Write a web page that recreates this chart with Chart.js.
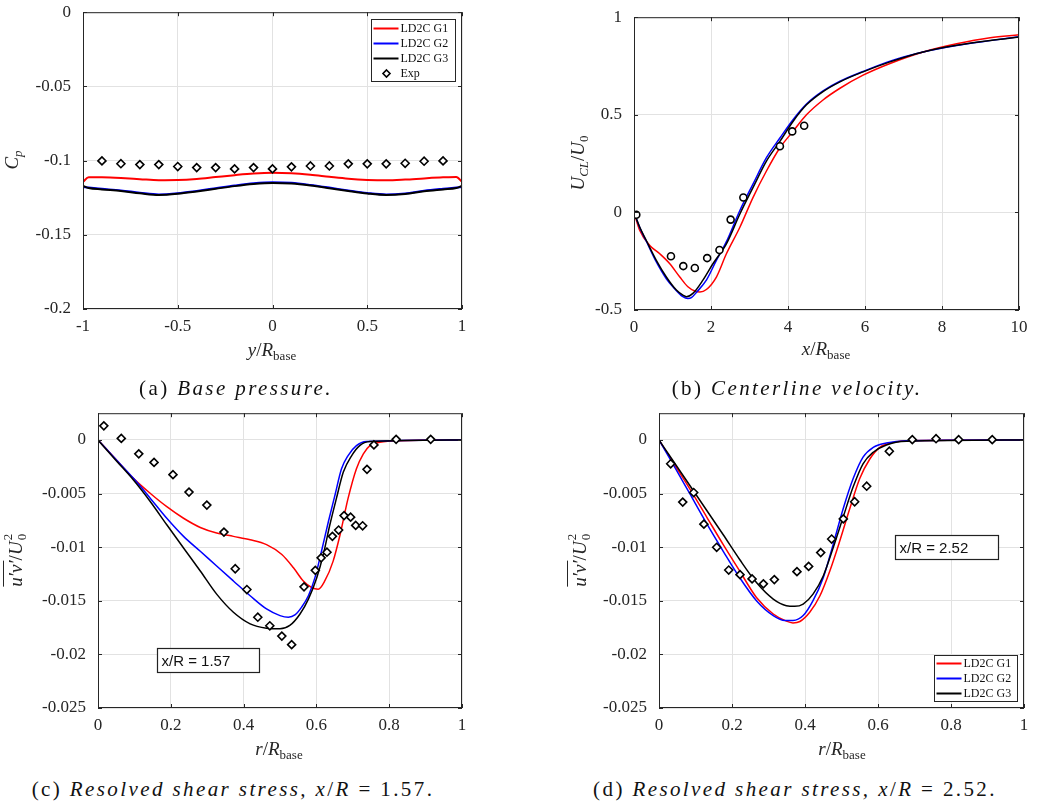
<!DOCTYPE html>
<html>
<head>
<meta charset="utf-8">
<script src="https://cdn.jsdelivr.net/npm/chart.js@4.4.1/dist/chart.umd.min.js"></script>
<style>
  body { margin: 0; width: 1042px; height: 803px; position: relative; overflow: hidden; background: #fff; }
  canvas { position: absolute; }
  .lbl { position: absolute; transform: translate(-50%, -50%); white-space: nowrap;
         font-family: 'Liberation Serif', 'Times New Roman', 'DejaVu Serif', serif; color: #262626; font-size: 19px; }
  .yt { transform: translate(-50%, -50%) rotate(-90deg); }
  .cap { font-size: 21px; color: #111; letter-spacing: 2.4px; }
  .lbl sub { font-size: 13px; vertical-align: -4px; font-style: normal; }
  .ss { display: inline-block; position: relative; width: 8px; height: 10px; }
  .ss .up { position: absolute; left: 1px; top: -12px; font-size: 13px; }
  .ss .dn { position: absolute; left: 1px; top: 2px; font-size: 13px; }
  .ov { border-top: 1px solid #262626; padding-top: 1px; }
</style>
</head>
<body>
<canvas id="chA" width="499" height="364" style="left:-7px;top:-10px"></canvas>
<canvas id="chB" width="505" height="360" style="left:544px;top:-5px"></canvas>
<canvas id="chC" width="484" height="362" style="left:8px;top:391px"></canvas>
<canvas id="chD" width="485" height="362" style="left:569px;top:391px"></canvas>

<div class="lbl yt" style="left:13px;top:160px"><i>C</i><sub><i>p</i></sub></div>
<div class="lbl" style="left:272px;top:351px"><i>y</i>/<i>R</i><sub>base</sub></div>
<div class="lbl yt" style="left:579px;top:163px"><i>U</i><sub><i>CL</i></sub>/<i>U</i><sub>0</sub></div>
<div class="lbl" style="left:826px;top:350px"><i>x</i>/<i>R</i><sub>base</sub></div>
<div class="lbl yt" style="left:16px;top:560px"><i class="ov">u′v′</i>/<i>U</i><span class="ss"><span class="up">2</span><span class="dn">0</span></span></div>
<div class="lbl" style="left:279px;top:750px"><i>r</i>/<i>R</i><sub>base</sub></div>
<div class="lbl yt" style="left:580px;top:560px"><i class="ov">u′v′</i>/<i>U</i><span class="ss"><span class="up">2</span><span class="dn">0</span></span></div>
<div class="lbl" style="left:842px;top:750px"><i>r</i>/<i>R</i><sub>base</sub></div>

<div class="lbl cap" style="left:236px;top:388px">(a) <i>Base pressure.</i></div>
<div class="lbl cap" style="left:797px;top:388px">(b) <i>Centerline velocity.</i></div>
<div class="lbl cap" style="left:233px;top:789px">(c) <i>Resolved shear stress, x</i>/<i>R</i> = 1.57.</div>
<div class="lbl cap" style="left:795px;top:789px">(d) <i>Resolved shear stress, x</i>/<i>R</i> = 2.52.</div>

<script>
// ---- (a) base pressure ----
const aExpX = [-0.9, -0.8, -0.7, -0.6, -0.5, -0.4, -0.3, -0.2, -0.1, 0, 0.1, 0.2, 0.3, 0.4, 0.5, 0.6, 0.7, 0.8, 0.9];
const aExp = [-0.1002, -0.1021, -0.1027, -0.1027, -0.1040, -0.1047, -0.1047, -0.1056, -0.1047, -0.1056, -0.1042, -0.1036, -0.1036, -0.1022, -0.1022, -0.1022, -0.1018, -0.1004, -0.1002];
const aLineX = [-1, -0.97, -0.9, -0.8, -0.7, -0.6, -0.5, -0.4, -0.3, -0.2, -0.1, 0, 0.1, 0.2, 0.3, 0.4, 0.5, 0.6, 0.7, 0.8, 0.9, 0.97, 1];
const aG1 = [-0.1143, -0.1112, -0.1113, -0.1118, -0.1125, -0.1132, -0.1131, -0.1124, -0.1111, -0.1098, -0.1087, -0.1082, -0.1085, -0.1095, -0.1109, -0.1122, -0.1130, -0.1133, -0.1128, -0.1120, -0.1113, -0.1110, -0.1143];
const aG2 = [-0.1178, -0.1182, -0.1190, -0.1201, -0.1216, -0.1228, -0.1220, -0.1204, -0.1186, -0.1168, -0.1153, -0.1146, -0.1150, -0.1164, -0.1182, -0.1201, -0.1218, -0.1228, -0.1221, -0.1203, -0.1190, -0.1182, -0.1178];
const aG3 = [-0.1170, -0.1185, -0.1194, -0.1205, -0.1220, -0.1232, -0.1224, -0.1208, -0.1190, -0.1172, -0.1158, -0.1151, -0.1155, -0.1168, -0.1186, -0.1205, -0.1222, -0.1232, -0.1225, -0.1207, -0.1194, -0.1185, -0.1170];

// ---- (b) centerline velocity ----
const bExpX = [0.06, 0.96, 1.28, 1.58, 1.90, 2.22, 2.51, 2.84, 3.79, 4.11, 4.42];
const bExp = [-0.012, -0.225, -0.275, -0.285, -0.234, -0.193, -0.037, 0.076, 0.339, 0.415, 0.444];
const bG1X = [0, 0.15, 0.41, 0.67, 0.93, 1.19, 1.40, 1.58, 1.71, 1.88, 2.14, 2.40, 2.75, 3.09, 3.44, 3.79, 4.13, 4.48, 4.91, 5.35, 5.95, 6.65, 7.51, 8.38, 9.25, 10];
const bG1 = [0, -0.093, -0.169, -0.212, -0.263, -0.331, -0.381, -0.403, -0.408, -0.395, -0.331, -0.212, -0.076, 0.076, 0.212, 0.331, 0.415, 0.5, 0.576, 0.636, 0.703, 0.763, 0.822, 0.864, 0.895, 0.910];
const bG2X = [0, 0.15, 0.32, 0.58, 0.84, 1.01, 1.27, 1.40, 1.49, 1.62, 1.88, 2.14, 2.40, 2.75, 3.09, 3.44, 3.79, 4.13, 4.48, 4.91, 5.35, 5.95, 6.65, 7.51, 8.38, 9.25, 10];
const bG2 = [0, -0.078, -0.148, -0.254, -0.34, -0.381, -0.432, -0.441, -0.437, -0.41, -0.347, -0.246, -0.15, 0.01, 0.145, 0.28, 0.381, 0.475, 0.555, 0.622, 0.672, 0.722, 0.775, 0.822, 0.855, 0.880, 0.900];
const bG3X = [0, 0.15, 0.32, 0.58, 0.84, 1.10, 1.27, 1.36, 1.53, 1.79, 2.05, 2.40, 2.75, 3.09, 3.44, 3.79, 4.13, 4.48, 4.91, 5.35, 5.95, 6.65, 7.51, 8.38, 9.25, 10];
const bG3 = [0, -0.076, -0.144, -0.246, -0.331, -0.398, -0.424, -0.432, -0.415, -0.347, -0.263, -0.161, -0.008, 0.127, 0.263, 0.364, 0.466, 0.551, 0.619, 0.669, 0.720, 0.771, 0.822, 0.856, 0.881, 0.898];

// ---- (c) shear stress x/R = 1.57 ----
const cExpX = [0.016, 0.064, 0.112, 0.154, 0.206, 0.250, 0.299, 0.346, 0.377, 0.409, 0.439, 0.472, 0.505, 0.532, 0.566, 0.597, 0.613, 0.629, 0.644, 0.661, 0.676, 0.694, 0.708, 0.727, 0.739, 0.758, 0.819, 0.914];
const cExp = [0.00132, 0.00015, -0.00129, -0.00209, -0.00323, -0.00486, -0.00607, -0.00859, -0.01201, -0.01395, -0.01653, -0.01733, -0.01829, -0.01909, -0.0137, -0.01216, -0.01099, -0.01047, -0.00899, -0.0084, -0.00705, -0.0072, -0.00797, -0.008, -0.00274, -0.00046, 0.00006, 0.00006];
const cG1X = [0, 0.052, 0.098, 0.144, 0.189, 0.235, 0.281, 0.326, 0.372, 0.418, 0.463, 0.505, 0.537, 0.564, 0.587, 0.605, 0.623, 0.646, 0.665, 0.687, 0.710, 0.729, 0.747, 0.774, 0.829, 1];
const cG1 = [0, -0.00191, -0.0036, -0.00499, -0.00622, -0.0073, -0.00816, -0.00868, -0.00899, -0.0093, -0.00976, -0.01068, -0.01192, -0.01315, -0.01376, -0.01392, -0.01315, -0.0113, -0.00884, -0.00545, -0.00268, -0.00129, -0.00052, -0.00022, -0.00006, 0];
const cG2X = [0, 0.052, 0.098, 0.144, 0.189, 0.235, 0.281, 0.326, 0.372, 0.418, 0.463, 0.5, 0.523, 0.541, 0.559, 0.578, 0.596, 0.614, 0.633, 0.651, 0.669, 0.687, 0.710, 0.738, 1];
const cG2 = [0, -0.00191, -0.0036, -0.00545, -0.0073, -0.00899, -0.01038, -0.01176, -0.01315, -0.01453, -0.01576, -0.01638, -0.01653, -0.01632, -0.01561, -0.01453, -0.01284, -0.01038, -0.0076, -0.00514, -0.00268, -0.00145, -0.00052, -0.00015, 0];
const cG3X = [0, 0.052, 0.098, 0.144, 0.189, 0.235, 0.281, 0.326, 0.372, 0.418, 0.463, 0.5, 0.527, 0.555, 0.578, 0.601, 0.619, 0.637, 0.655, 0.674, 0.697, 0.719, 0.747, 1];
const cG3 = [0, -0.002, -0.00376, -0.00576, -0.00791, -0.01007, -0.01222, -0.01438, -0.01607, -0.01715, -0.01755, -0.01761, -0.0173, -0.01623, -0.01484, -0.01284, -0.01068, -0.00791, -0.00545, -0.00299, -0.00145, -0.00052, -0.00015, 0];

// ---- (d) shear stress x/R = 2.52 ----
const dExpX = [0.032, 0.065, 0.095, 0.123, 0.158, 0.191, 0.222, 0.255, 0.286, 0.316, 0.378, 0.410, 0.443, 0.473, 0.505, 0.536, 0.569, 0.631, 0.694, 0.759, 0.821, 0.913];
const dExp = [-0.00222, -0.00579, -0.0049, -0.00785, -0.01001, -0.01213, -0.01256, -0.01296, -0.01342, -0.01302, -0.01228, -0.01179, -0.0105, -0.00924, -0.00736, -0.00576, -0.00431, -0.00105, 0.00003, 0.00012, 0.00003, 0.00003];
const dG1X = [0, 0.038, 0.084, 0.130, 0.176, 0.221, 0.267, 0.313, 0.349, 0.367, 0.386, 0.413, 0.441, 0.468, 0.495, 0.523, 0.550, 0.578, 0.605, 0.642, 0.678, 1];
const dG1 = [0, -0.00206, -0.00453, -0.00714, -0.00976, -0.01222, -0.01469, -0.01623, -0.0169, -0.01706, -0.01693, -0.01607, -0.01453, -0.01222, -0.00945, -0.00637, -0.0036, -0.00175, -0.00068, -0.00022, -0.00006, 0];
const dG2X = [0, 0.038, 0.084, 0.130, 0.176, 0.221, 0.267, 0.313, 0.345, 0.367, 0.395, 0.422, 0.450, 0.477, 0.505, 0.532, 0.559, 0.587, 0.623, 0.678, 1];
const dG2 = [0, -0.00222, -0.00499, -0.00776, -0.01038, -0.01284, -0.01499, -0.01638, -0.01684, -0.01684, -0.01638, -0.01499, -0.01284, -0.00976, -0.00637, -0.0036, -0.0016, -0.00068, -0.00028, -0.00006, 0];
const dG3X = [0, 0.038, 0.084, 0.130, 0.176, 0.221, 0.267, 0.313, 0.349, 0.372, 0.395, 0.422, 0.450, 0.477, 0.505, 0.532, 0.559, 0.587, 0.623, 0.678, 1];
const dG3 = [0, -0.00191, -0.00422, -0.00653, -0.00884, -0.01115, -0.0133, -0.01484, -0.01546, -0.01552, -0.0153, -0.01438, -0.01268, -0.01007, -0.00714, -0.00437, -0.00222, -0.00114, -0.00046, -0.00012, 0];

const RED = '#ff0000', BLUE = '#0000ff', BLACK = '#000000';
const TICK_COLOR = '#262626', GRID = '#e2e2e2';
const SERIF = '"Liberation Serif", "Times New Roman", "DejaVu Serif", serif';

function pts(xs, ys) { return xs.map((x, i) => ({ x: x, y: ys[i] })); }

function line(label, xs, ys, color, w, order) {
  return { label: label, data: pts(xs, ys), showLine: true, borderColor: color, backgroundColor: color,
           borderWidth: w, pointRadius: 0, cubicInterpolationMode: 'monotone', order: order };
}
function marks(xs, ys, style) {
  return { label: 'Exp', data: pts(xs, ys), showLine: false, pointStyle: style,
           pointRadius: style === 'circle' ? 3.5 : 4, borderColor: BLACK, pointBorderWidth: 1.6,
           pointBackgroundColor: '#fff', borderWidth: 1.6, order: 0 };
}

// frame, inward ticks, text box and legend, MATLAB style
const extras = {
  id: 'extras',
  afterDatasetsDraw(chart, args, opts) {
    const ctx = chart.ctx, a = chart.chartArea;
    const xs = chart.scales.x, ys = chart.scales.y;
    ctx.save();
    ctx.strokeStyle = '#262626';
    ctx.lineWidth = 1;
    ctx.strokeRect(a.left + 0.5, a.top + 0.5, a.right - a.left - 1, a.bottom - a.top - 1);
    ctx.beginPath();
    xs.ticks.forEach(t => {
      const p = Math.round(xs.getPixelForValue(t.value)) + 0.5;
      ctx.moveTo(p, a.bottom); ctx.lineTo(p, a.bottom - 4);
      ctx.moveTo(p, a.top); ctx.lineTo(p, a.top + 4);
    });
    ys.ticks.forEach(t => {
      const p = Math.round(ys.getPixelForValue(t.value)) + 0.5;
      ctx.moveTo(a.left, p); ctx.lineTo(a.left + 4, p);
      ctx.moveTo(a.right, p); ctx.lineTo(a.right - 4, p);
    });
    ctx.stroke();

    if (opts.note) {
      const n = opts.note;
      const x0 = Math.round(xs.getPixelForValue(n.x0)) + 0.5, x1 = Math.round(xs.getPixelForValue(n.x1)) + 0.5;
      const y0 = Math.round(ys.getPixelForValue(n.y0)) + 0.5, y1 = Math.round(ys.getPixelForValue(n.y1)) + 0.5;
      ctx.fillStyle = '#fff';
      ctx.fillRect(x0, y0, x1 - x0, y1 - y0);
      ctx.lineWidth = 1.2;
      ctx.strokeStyle = '#222';
      ctx.strokeRect(x0, y0, x1 - x0, y1 - y0);
      ctx.fillStyle = '#111';
      ctx.font = '15px "Liberation Sans", Arial, sans-serif';
      ctx.textBaseline = 'middle';
      ctx.textAlign = 'left';
      ctx.fillText(n.text, x0 + 4, (y0 + y1) / 2 + 1);
    }

    if (opts.legend) {
      const L = opts.legend;
      const items = chart.data.datasets.filter(d => L.labels.includes(d.label));
      const h = L.h, w = L.w;
      const bx = Math.round(a.right - L.right - w) + 0.5;
      const by = L.top != null ? Math.round(a.top + L.top) + 0.5 : Math.round(a.bottom - L.bottom - h) + 0.5;
      ctx.fillStyle = '#fff';
      ctx.fillRect(bx, by, w, h);
      ctx.lineWidth = 1;
      ctx.strokeStyle = '#262626';
      ctx.strokeRect(bx, by, w, h);
      ctx.font = '12px ' + SERIF;
      ctx.textBaseline = 'middle';
      ctx.textAlign = 'left';
      L.labels.forEach((lab, i) => {
        const d = items.find(q => q.label === lab);
        const cy = by + L.first + i * L.step;
        if (d.showLine === false) {
          const cx = bx + 15, r = 3.5;
          ctx.beginPath();
          ctx.moveTo(cx, cy - r); ctx.lineTo(cx + r, cy); ctx.lineTo(cx, cy + r); ctx.lineTo(cx - r, cy); ctx.closePath();
          ctx.fillStyle = '#fff'; ctx.fill();
          ctx.lineWidth = 1.6; ctx.strokeStyle = BLACK; ctx.stroke();
        } else {
          ctx.beginPath();
          ctx.moveTo(bx + 2, cy); ctx.lineTo(bx + 27, cy);
          ctx.lineWidth = 2; ctx.strokeStyle = d.borderColor; ctx.stroke();
        }
        ctx.fillStyle = '#111';
        ctx.fillText(lab, bx + 29, cy + 0.5);
      });
    }
    ctx.restore();
  }
};

function fmt(v) { return String(+Number(v).toFixed(4)); }

function makeChart(id, datasets, xr, yr, extraOpts) {
  return new Chart(document.getElementById(id).getContext('2d'), {
    type: 'scatter',
    data: { datasets: datasets },
    options: {
      responsive: false,
      animation: false,
      layout: { padding: { top: 20, right: 30, left: 0, bottom: 0 } },
      plugins: { legend: { display: false }, tooltip: { enabled: false }, extras: extraOpts },
      scales: {
        x: {
          type: 'linear', min: xr[0], max: xr[1],
          ticks: { stepSize: xr[2], includeBounds: false, padding: 7, color: TICK_COLOR, maxRotation: 0,
                   font: { family: SERIF, size: 17 }, callback: fmt },
          grid: { color: GRID, drawTicks: false, tickLength: 0 },
          border: { display: false },
          afterFit: s => { s.height = 45; }
        },
        y: {
          type: 'linear', min: yr[0], max: yr[1],
          ticks: { stepSize: yr[2], includeBounds: false, padding: 12, color: TICK_COLOR,
                   font: { family: SERIF, size: 17 }, callback: fmt },
          grid: { color: GRID, drawTicks: false, tickLength: 0 },
          border: { display: false },
          afterFit: s => { s.width = 90; }
        }
      }
    },
    plugins: [extras]
  });
}

makeChart('chA', [
  marks(aExpX, aExp, 'rectRot'),
  line('LD2C G1', aLineX, aG1, RED, 2, 3),
  line('LD2C G2', aLineX, aG2, BLUE, 2, 2),
  line('LD2C G3', aLineX, aG3, BLACK, 2, 1)
], [-1, 1, 0.5], [-0.2, 0, 0.05],
  { legend: { labels: ['LD2C G1', 'LD2C G2', 'LD2C G3', 'Exp'], right: 7, top: 7, w: 84, h: 62, first: 9, step: 15 } });

makeChart('chB', [
  marks(bExpX, bExp, 'circle'),
  line('LD2C G1', bG1X, bG1, RED, 1.5, 3),
  line('LD2C G2', bG2X, bG2, BLUE, 1.5, 2),
  line('LD2C G3', bG3X, bG3, BLACK, 1.5, 1)
], [0, 10, 2], [-0.5, 1, 0.5], {});

makeChart('chC', [
  marks(cExpX, cExp, 'rectRot'),
  line('LD2C G1', cG1X, cG1, RED, 1.5, 3),
  line('LD2C G2', cG2X, cG2, BLUE, 1.5, 2),
  line('LD2C G3', cG3X, cG3, BLACK, 1.5, 1)
], [0, 1, 0.2], [-0.025, 0.0025, 0.005],
  { note: { text: 'x/R = 1.57', x0: 0.161, x1: 0.442, y0: -0.0194, y1: -0.0216 } });

makeChart('chD', [
  marks(dExpX, dExp, 'rectRot'),
  line('LD2C G1', dG1X, dG1, RED, 1.5, 3),
  line('LD2C G2', dG2X, dG2, BLUE, 1.5, 2),
  line('LD2C G3', dG3X, dG3, BLACK, 1.5, 1)
], [0, 1, 0.2], [-0.025, 0.0025, 0.005],
  { note: { text: 'x/R = 2.52', x0: 0.647, x1: 0.930, y0: -0.00884, y1: -0.01111 },
    legend: { labels: ['LD2C G1', 'LD2C G2', 'LD2C G3'], right: 7, bottom: 7, w: 83, h: 46, first: 8, step: 15 } });
</script>
</body>
</html>
